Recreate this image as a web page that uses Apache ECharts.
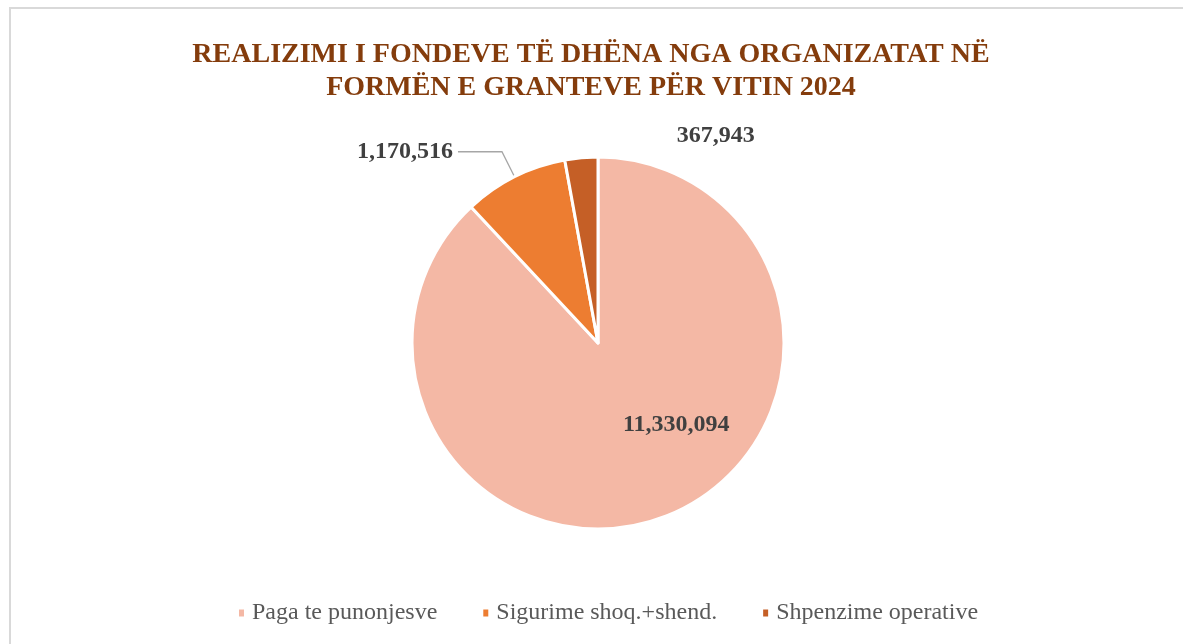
<!DOCTYPE html>
<html>
<head>
<meta charset="utf-8">
<script src="https://cdn.jsdelivr.net/npm/echarts@6/dist/echarts.min.js"></script>
<style>
  html, body { margin: 0; padding: 0; background: #fff; }
  #chartBox { width: 1183px; height: 644px; }
</style>
</head>
<body>
<div id="chartBox"></div>
<script>
// te dhenat e grafikut
const categories = ['Paga te punonjesve', 'Sigurime shoq.+shend.', 'Shpenzime operative']
const values = [11330094, 1170516, 367943]
const colors = ['#F4B8A5', '#ED7D31', '#C55F26']

const serif = "'Liberation Serif', 'Times New Roman', serif"

const chart = echarts.init(document.getElementById('chartBox'))

const option = {
    backgroundColor: '#fff',
    title: {
        text: 'REALIZIMI I FONDEVE TË DHËNA NGA ORGANIZATAT NË\nFORMËN E GRANTEVE PËR VITIN 2024',
        left: 586,
        textAlign: 'center',
        top: 33,
        textStyle: {
            fontFamily: serif,
            fontWeight: 'bold',
            fontSize: 28,
            lineHeight: 33,
            color: '#843C0C'
        }
    },
    legend: {
        left: 232,
        top: 596,
        icon: 'rect',
        itemWidth: 7,
        itemHeight: 9,
        itemGap: 44,
        textStyle: {
            fontFamily: serif,
            fontSize: 24,
            color: '#595959',
            padding: [0, 0, 0, 2]
        },
        data: categories
    },
    graphic: [
        {
            // korniza e grafikut
            type: 'rect',
            shape: { x: 10, y: 8, width: 1400, height: 900 },
            style: { fill: 'none', stroke: '#D9D9D9', lineWidth: 2 },
            silent: true
        }
    ],
    series: [
        {
            type: 'pie',
            center: [598, 343],
            radius: 186,
            startAngle: 90,
            clockwise: true,
            avoidLabelOverlap: false,
            itemStyle: {
                borderColor: '#fff',
                borderWidth: 3
            },
            label: {
                show: true,
                fontFamily: serif,
                fontWeight: 'bold',
                fontSize: 24,
                color: '#404040',
                formatter: p => p.value.toLocaleString('en-US')
            },
            labelLine: {
                length: 28,
                length2: 44,
                lineStyle: { color: '#A6A6A6', width: 1.3 }
            },
            labelLayout: function (p) {
                if (p.dataIndex === 2) {
                    return { dx: 225, dy: 6 }
                }
                return {}
            },
            data: categories.map((name, i) => {
                const item = {
                    name: name,
                    value: values[i],
                    itemStyle: { color: colors[i] }
                }
                if (i === 0) {
                    item.label = { position: 'inside', offset: [43, -8] }
                } else if (i === 1) {
                    item.label = { position: 'outside' }
                } else {
                    item.label = { position: 'outside' }
                    item.labelLine = { show: false }
                }
                return item
            })
        }
    ]
}

chart.setOption(option)
</script>
</body>
</html>
